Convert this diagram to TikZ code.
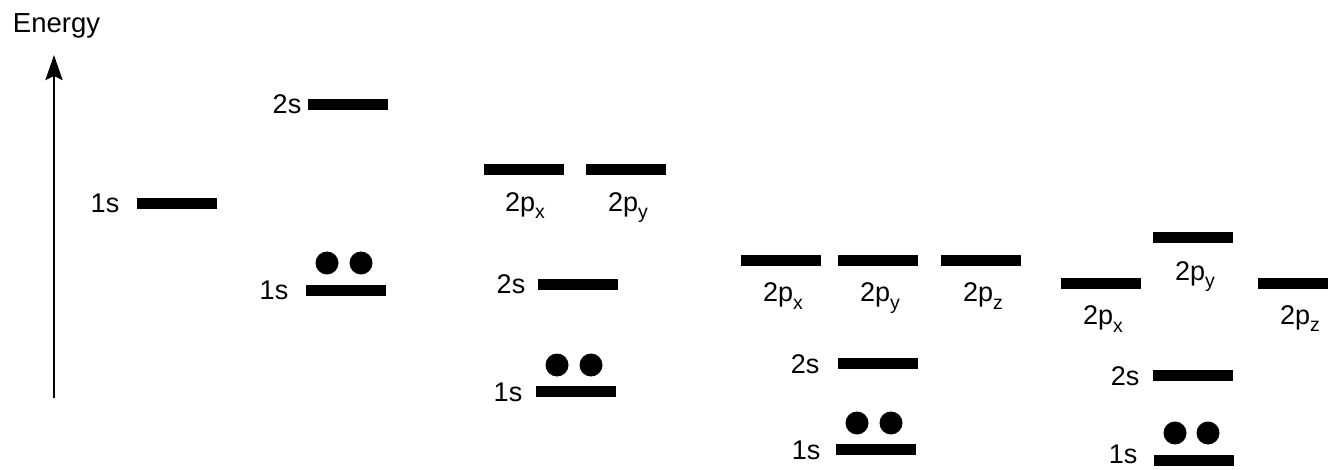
\documentclass[tikz,border=0pt]{standalone}
\usepackage{fontspec}
\setmainfont{Liberation Sans}
\usetikzlibrary{arrows.meta}
\newcommand\sbs[1]{\raisebox{-7pt}{\fontsize{19.5}{19.5}\selectfont #1}}
\begin{document}
\begin{tikzpicture}[x=1pt,y=-1pt,
  bar/.style={rectangle,fill=black,draw=none,inner sep=0pt,minimum width=80pt,minimum height=11pt},
  lbl/.style={anchor=base,inner sep=0pt,font=\fontsize{27}{32}\selectfont},
  title/.style={anchor=base,inner sep=0pt,font=\fontsize{27.5}{32}\selectfont},
  dot/.style={circle,fill=black,draw=none,inner sep=0pt,minimum size=23pt},
  axis/.style={line width=2.7pt,-{Stealth[length=25pt,width=17pt,inset=4pt]}}]
\useasboundingbox (0,0) rectangle (1328,470);
% axis
\node[title] (energy) at (56.5,33) {Energy};
\coordinate (abot) at (54,398);
\coordinate (atop) at (54,55);
\draw[axis] (abot) -- (atop);
% column 1
\node[bar] (c1s1) at (177,203.5) {};
\node[lbl] (l1s1) at (105,213) {1s};
% column 2
\node[bar] (c2s2) at (348,104.5) {};
\node[lbl] (l2s2) at (287,114) {2s};
\node[bar] (c2s1) at (346,290.5) {};
\node[lbl] (l2s1) at (274,300) {1s};
\node[dot] (d2a) at (327,263) {};
\node[dot] (d2b) at (361,263) {};
% column 3
\node[bar] (c3px) at (524,169.5) {};
\node[bar] (c3py) at (626,169.5) {};
\node[lbl] (l3px) at (525,212) {2p\sbs{x}};
\node[lbl] (l3py) at (628,212) {2p\sbs{y}};
\node[bar] (c3s2) at (578,284.5) {};
\node[lbl] (l3s2) at (511,294) {2s};
\node[bar] (c3s1) at (576,391.5) {};
\node[lbl] (l3s1) at (508,401) {1s};
\node[dot] (d3a) at (557,365) {};
\node[dot] (d3b) at (591,365) {};
% column 4
\node[bar] (c4px) at (781,260.5) {};
\node[bar] (c4py) at (878,260.5) {};
\node[bar] (c4pz) at (981,260.5) {};
\node[lbl] (l4px) at (783,302) {2p\sbs{x}};
\node[lbl] (l4py) at (880,302) {2p\sbs{y}};
\node[lbl] (l4pz) at (983,302) {2p\sbs{z}};
\node[bar] (c4s2) at (878,363.5) {};
\node[lbl] (l4s2) at (805,373) {2s};
\node[bar] (c4s1) at (876,449.5) {};
\node[lbl] (l4s1) at (806,459) {1s};
\node[dot] (d4a) at (857,423) {};
\node[dot] (d4b) at (891,423) {};
% column 5
\node[bar] (c5py) at (1193,237.5) {};
\node[lbl] (l5py) at (1195,281) {2p\sbs{y}};
\node[bar] (c5px) at (1101,283.5) {};
\node[lbl] (l5px) at (1103,325) {2p\sbs{x}};
\node[bar] (c5pz) at (1298,283.5) {};
\node[lbl] (l5pz) at (1300,324) {2p\sbs{z}};
\node[bar] (c5s2) at (1193,375.5) {};
\node[lbl] (l5s2) at (1125,385) {2s};
\node[bar] (c5s1) at (1194,460.5) {};
\node[lbl] (l5s1) at (1123,463) {1s};
\node[dot] (d5a) at (1175,433) {};
\node[dot] (d5b) at (1208,433) {};
\end{tikzpicture}
\end{document}
